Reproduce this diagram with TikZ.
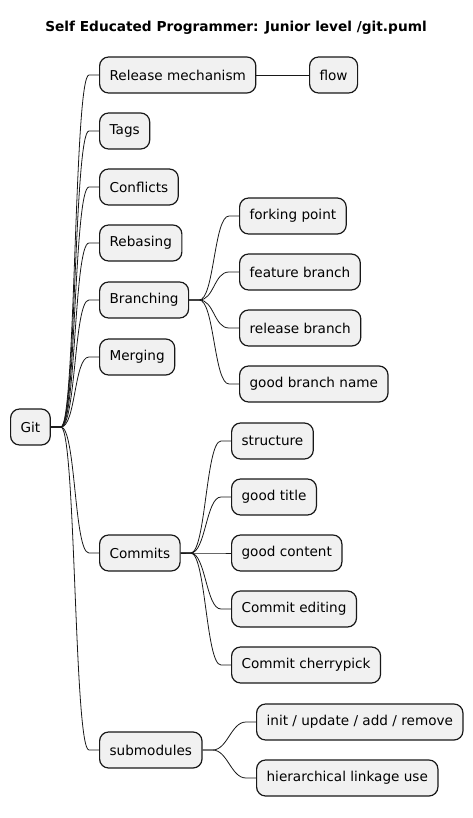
\documentclass[tikz,border=0pt]{standalone}
\usepackage{fontspec}
\setmainfont{DejaVu Sans}
\usetikzlibrary{calc}
\definecolor{nodefill}{RGB}{241,241,241}
\definecolor{nodeline}{RGB}{24,24,24}
\tikzset{
  mm/.style={draw=nodeline, fill=nodefill, rounded corners=9pt, line width=1.2pt,
    minimum height=36pt, inner xsep=10pt, inner ysep=0pt, anchor=west,
    font=\fontsize{13.6}{16}\selectfont},
  conn/.style={draw=nodeline, line width=0.8pt},
  ttl/.style={font=\bfseries\fontsize{13.7}{16}\selectfont}
}
\newcommand{\mmedge}[2]{\draw[conn] (#1.east) -- ++(10pt,0) .. controls +(15pt,0) and ($(#2.west)+(-25pt,0)$) .. ($(#2.west)+(-10pt,0)$) -- (#2.west);}
\begin{document}
\begin{tikzpicture}[x=1pt,y=-1pt]
\useasboundingbox (0,0) rectangle (472,818);
\node[ttl] (title) at (236,28) {Self Educated Programmer: Junior level /git.puml};

\node[mm] (git) at (10,427) {Git};
\node[mm] (rel) at (99,75) {Release mechanism};
\node[mm] (flow) at (309,75) {flow};
\node[mm] (tags) at (99,131) {Tags};
\node[mm] (conf) at (99,187) {Conflicts};
\node[mm] (reb) at (99,243) {Rebasing};
\node[mm] (branch) at (99,300) {Branching};
\node[mm] (fork) at (239,216) {forking point};
\node[mm] (feat) at (239,272) {feature branch};
\node[mm] (relb) at (239,328) {release branch};
\node[mm] (gbn) at (239,384) {good branch name};
\node[mm] (merg) at (99,357) {Merging};
\node[mm] (comm) at (99,553) {Commits};
\node[mm] (struct) at (231,441) {structure};
\node[mm] (gtitle) at (231,497) {good title};
\node[mm] (gcont) at (231,553) {good content};
\node[mm] (cedit) at (231,609) {Commit editing};
\node[mm] (ccherry) at (231,665) {Commit cherrypick};
\node[mm] (sub) at (99,750) {submodules};
\node[mm] (init) at (256,722) {init / update / add / remove};
\node[mm] (hier) at (256,778) {hierarchical linkage use};

\mmedge{git}{rel}
\mmedge{git}{tags}
\mmedge{git}{conf}
\mmedge{git}{reb}
\mmedge{git}{branch}
\mmedge{git}{merg}
\mmedge{git}{comm}
\mmedge{git}{sub}
\draw[conn] (rel.east) -- (flow.west);
\mmedge{branch}{fork}
\mmedge{branch}{feat}
\mmedge{branch}{relb}
\mmedge{branch}{gbn}
\mmedge{comm}{struct}
\mmedge{comm}{gtitle}
\mmedge{comm}{gcont}
\mmedge{comm}{cedit}
\mmedge{comm}{ccherry}
\mmedge{sub}{init}
\mmedge{sub}{hier}
\end{tikzpicture}
\end{document}
